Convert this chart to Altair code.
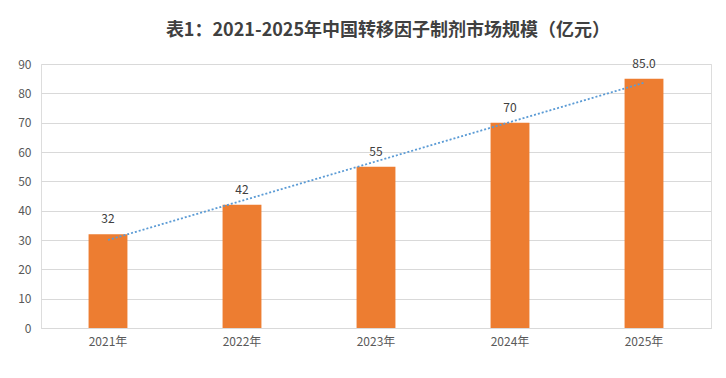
import altair as alt
import pandas as pd

years = ["2021年", "2022年", "2023年", "2024年", "2025年"]
values = [32, 42, 55, 70, 85]
labels = ["32", "42", "55", "70", "85.0"]
idx = [0, 1, 2, 3, 4]

df = pd.DataFrame({"year": years, "value": values, "label": labels, "idx": idx})

FONT = "Noto Sans CJK SC"

x = alt.X("year:N", sort=years, title=None,
          scale=alt.Scale(paddingInner=0.71, paddingOuter=0.355),
          axis=alt.Axis(labelAngle=0, labelFont=FONT, labelFontSize=12, labelColor="#595959",
                        domainColor="#d9d9d9", ticks=False, labelPadding=8))
y = alt.Y("value:Q", title=None,
          scale=alt.Scale(domain=[0, 90], nice=False),
          axis=alt.Axis(values=list(range(0, 100, 10)), labelFont=FONT, labelFontSize=12,
                        labelColor="#595959", domain=False, ticks=False, labelPadding=10,
                        labelOverlap=False, gridColor="#d9d9d9"))

bars = alt.Chart(df).mark_bar(color="#ED7D31").encode(x=x, y=y)
text = alt.Chart(df).mark_text(dy=-15, font=FONT, fontSize=12, color="#404040").encode(
    x=x, y=y, text="label:N")

trend = alt.Chart(df).transform_regression("idx", "value", method="linear").transform_calculate(
    year="['2021年','2022年','2023年','2024年','2025年'][round(datum.idx)]"
).mark_line(color="#5B9BD5", strokeDash=[2, 2], strokeWidth=1.8).encode(x=x, y=y)

chart = alt.layer(bars, trend, text).properties(
    width=670, height=264,
    title=alt.TitleParams("表1：2021-2025年中国转移因子制剂市场规模（亿元）", font=FONT,
                          fontSize=18, fontWeight="bold", color="#404040", anchor="middle",
                          offset=18, dx=12),
    autosize=alt.AutoSizeParams(type="none"),
    padding={"left": 33, "top": 56, "right": 7, "bottom": 42},
).configure_view(stroke=None).configure(background="white")

chart.save("out.html", embed_options={"renderer": "svg", "actions": False})
